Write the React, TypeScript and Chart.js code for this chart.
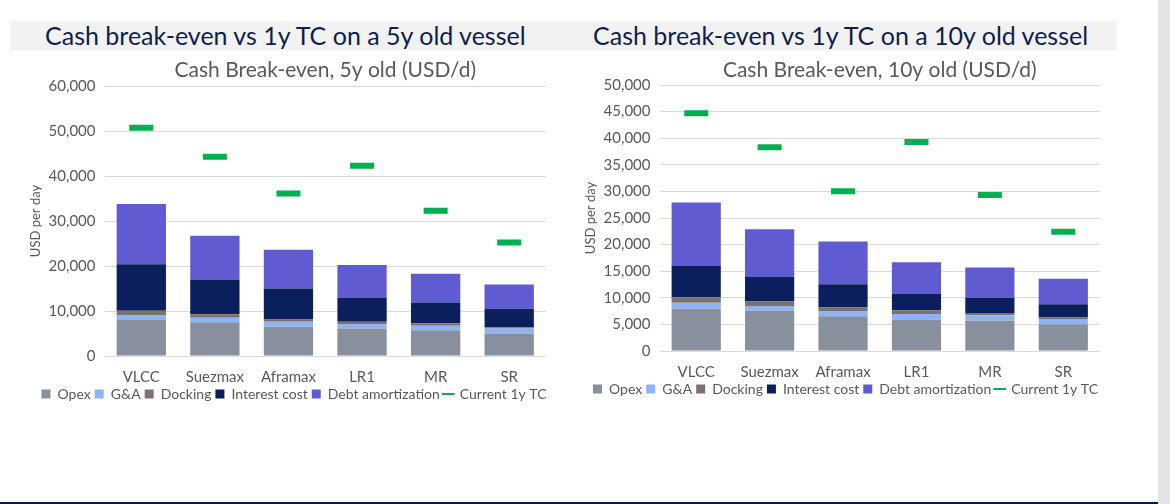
import React, { useEffect, useRef } from 'react';
import { Chart, registerables } from 'chart.js';

Chart.register(...registerables);

const categories = ['VLCC', 'Suezmax', 'Aframax', 'LR1', 'MR', 'SR'];
const seriesLabels = ['Opex', 'G&A', 'Docking', 'Interest cost', 'Debt amortization', 'Current 1y TC'];

// 5y old vessel (USD/d)
const opex5 = [8000, 7500, 6500, 6100, 5700, 5000];
const ga5 = [1100, 1000, 1100, 1000, 1000, 1100];
const docking5 = [950, 800, 500, 500, 600, 300];
const interest5 = [10350, 7700, 6900, 5400, 4600, 4100];
const debt5 = [13400, 9700, 8600, 7200, 6400, 5400];
const tc5 = [50700, 44300, 36100, 42300, 32300, 25200];

// 10y old vessel (USD/d)
const opex10 = [7950, 7550, 6550, 5900, 5700, 5050];
const ga10 = [1100, 900, 950, 1050, 1000, 950];
const docking10 = [1050, 850, 700, 700, 450, 300];
const interest10 = [5900, 4600, 4350, 3050, 2850, 2500];
const debt10 = [11900, 9000, 8050, 6000, 5700, 4800];
const tc10 = [44700, 38300, 30050, 39300, 29300, 22400];

const colors = ['#87909c', '#8fb4f5', '#7d716d', '#0b1f5c', '#5f5bd0', '#00b050'];
const FONT = 'Lato, "DejaVu Sans", sans-serif';

type Spec = {
  subtitle: string;
  max: number;
  step: number;
  series: number[][];
  tc: number[];
  height: number;
  padTop: number;
  padRight: number;
  subY: number;
  legendDx: number;
  legendDy: number;
};

const subtitlePlugin = {
  id: 'subtitleCenter',
  afterDraw(chart: any, _args: any, opts: any) {
    const { ctx, chartArea } = chart;
    ctx.save();
    ctx.font = `21px ${FONT}`;
    ctx.fillStyle = '#595959';
    ctx.textAlign = 'center';
    ctx.textBaseline = 'middle';
    ctx.fillText(opts.text, (chartArea.left + chartArea.right) / 2, opts.y);
    ctx.restore();
  },
};

const legendShiftPlugin = {
  id: 'legendShift',
  afterLayout(chart: any, _args: any, opts: any) {
    const lg = chart.legend;
    if (!lg) return;
    lg.top -= opts.dy;
    lg.bottom -= opts.dy;
    lg.left += opts.dx;
    lg.right += opts.dx;
  },
};

function StackChart({ spec }: { spec: Spec }) {
  const ref = useRef<HTMLCanvasElement | null>(null);
  useEffect(() => {
    if (!ref.current) return;
    const datasets: any[] = spec.series.map((vals, i) => ({
      type: 'bar',
      label: seriesLabels[i],
      data: vals,
      backgroundColor: colors[i],
      borderWidth: 0,
      stack: 'cost',
      categoryPercentage: 1,
      barPercentage: 0.67,
    }));
    datasets.push({
      type: 'line',
      label: seriesLabels[5],
      data: spec.tc,
      showLine: false,
      stack: 'tc',
      pointStyle: 'line',
      pointRadius: 12,
      pointHoverRadius: 12,
      pointBorderWidth: 6,
      pointBorderColor: colors[5],
      pointBackgroundColor: colors[5],
      borderColor: colors[5],
      backgroundColor: colors[5],
    });
    const chart = new Chart(ref.current, {
      type: 'bar',
      data: { labels: categories, datasets },
      plugins: [subtitlePlugin, legendShiftPlugin],
      options: {
        animation: false,
        responsive: false,
        maintainAspectRatio: false,
        layout: { padding: { left: 0, right: spec.padRight, top: spec.padTop, bottom: 0 } },
        plugins: {
          tooltip: { enabled: false },
          title: { display: false },
          subtitleCenter: { text: spec.subtitle, y: spec.subY },
          legendShift: { dx: spec.legendDx, dy: spec.legendDy },
          legend: {
            position: 'bottom',
            labels: {
              usePointStyle: true,
              boxWidth: 9,
              boxHeight: 9,
              padding: 4,
              color: '#595959',
              font: { family: FONT, size: 14, lineHeight: 1 },
              generateLabels: (c: any) =>
                c.data.datasets.map((ds: any, i: number) => ({
                  text: ds.label,
                  fillStyle: colors[i],
                  strokeStyle: colors[i],
                  lineWidth: i === 5 ? 2 : 0,
                  pointStyle: i === 5 ? 'line' : 'rect',
                  hidden: false,
                  datasetIndex: i,
                  fontColor: '#595959',
                })),
            },
          },
        },
        scales: {
          x: {
            stacked: true,
            grid: { display: false, drawTicks: false },
            border: { display: false },
            ticks: { color: '#595959', font: { family: FONT, size: 15, lineHeight: 1 }, padding: 14 },
          },
          y: {
            stacked: true,
            min: 0,
            max: spec.max,
            ticks: {
              stepSize: spec.step,
              color: '#595959',
              font: { family: FONT, size: 15 },
              padding: 9,
              callback: (v: any) => Number(v).toLocaleString('en-US'),
            },
            grid: { color: '#d9d9d9', drawTicks: false, lineWidth: 1 },
            border: { display: false },
            title: {
              display: true,
              text: 'USD per day',
              color: '#595959',
              font: { family: FONT, size: 13 },
              padding: { top: 4, bottom: -4 },
            },
          },
        },
      } as any,
    });
    return () => chart.destroy();
  }, [spec]);
  return (
    <canvas
      ref={ref}
      width={540}
      height={spec.height}
      style={{ width: 540, height: spec.height, display: 'block' }}
    />
  );
}

const spec5: Spec = {
  subtitle: 'Cash Break-even, 5y old (USD/d)',
  max: 60000,
  step: 10000,
  series: [opex5, ga5, docking5, interest5, debt5],
  tc: tc5,
  height: 375,
  padTop: 34,
  padRight: 16,
  subY: 18,
  legendDx: 8,
  legendDy: 16,
};
const spec10: Spec = {
  subtitle: 'Cash Break-even, 10y old (USD/d)',
  max: 50000,
  step: 5000,
  series: [opex10, ga10, docking10, interest10, debt10],
  tc: tc10,
  height: 370,
  padTop: 33,
  padRight: 19,
  subY: 18,
  legendDx: 6,
  legendDy: 16,
};

export default function App() {
  const titleStyle: React.CSSProperties = {
    position: 'absolute',
    top: 21,
    height: 29,
    lineHeight: '29px',
    fontFamily: FONT,
    fontSize: 25,
    color: '#0f1e4d',
    whiteSpace: 'nowrap',
  };
  return (
    <div style={{ position: 'absolute', left: 0, top: 0, width: 1170, height: 504, background: '#fff', overflow: 'hidden' }}>
      <div style={{ position: 'absolute', left: 10, top: 21, width: 1107, height: 29, background: '#f2f2f2' }} />
      <div style={{ ...titleStyle, left: 45 }}>Cash break-even vs 1y TC on a 5y old vessel</div>
      <div style={{ ...titleStyle, left: 593 }}>Cash break-even vs 1y TC on a 10y old vessel</div>
      <div style={{ position: 'absolute', left: 24, top: 52 }}>
        <StackChart spec={spec5} />
      </div>
      <div style={{ position: 'absolute', left: 579, top: 52 }}>
        <StackChart spec={spec10} />
      </div>
      <div style={{ position: 'absolute', left: 1158, top: 0, width: 12, height: 504, background: '#e4e4e4' }} />
      <div style={{ position: 'absolute', left: 0, top: 502, width: 1158, height: 2, background: '#0d1b3e' }} />
    </div>
  );
}
